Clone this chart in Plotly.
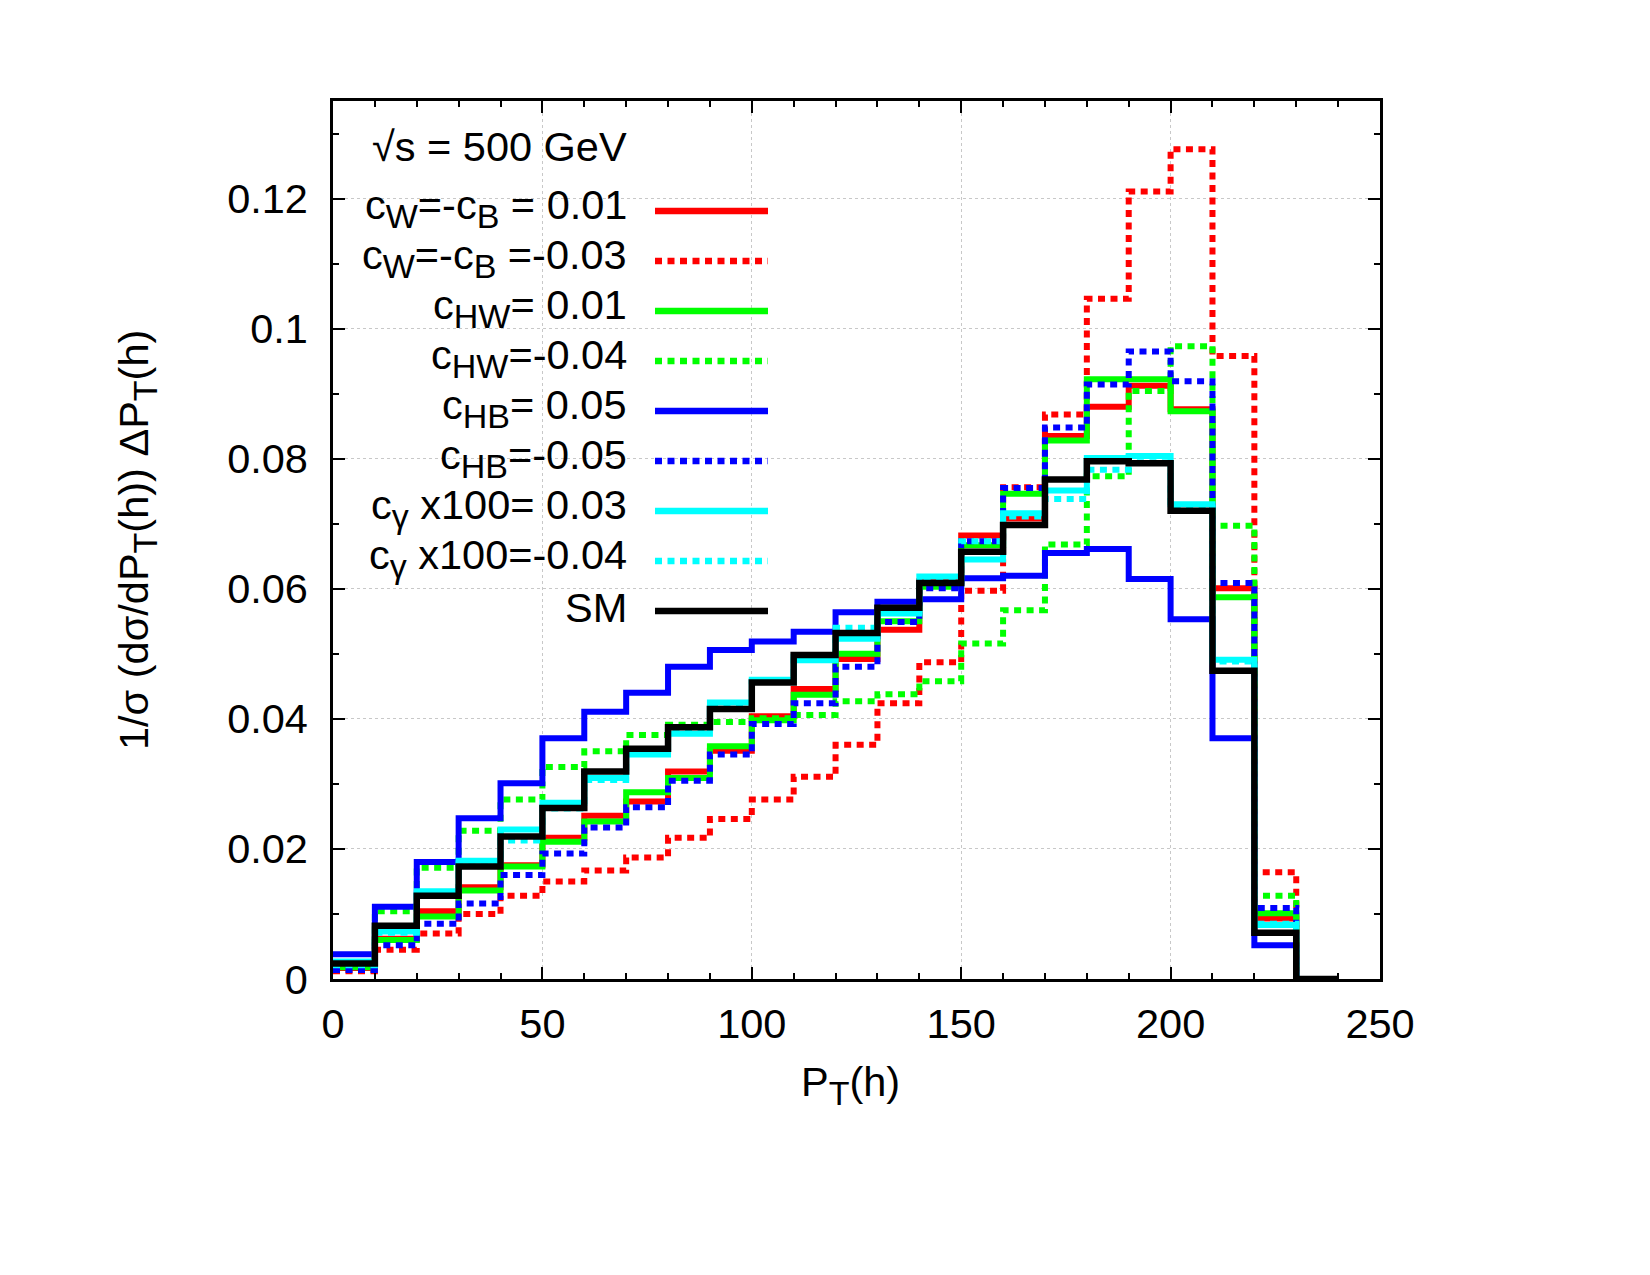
import plotly.graph_objects as go

# ---------------- data ----------------
bin_edges = [0, 10, 20, 30, 40, 50, 60, 70, 80, 90, 100, 110, 120,
             130, 140, 150, 160, 170, 180, 190, 200, 210, 220, 230, 240]

cw_p001 = [0.0017, 0.0062, 0.0104, 0.0141, 0.0175, 0.0217, 0.0251, 0.0273, 0.0319, 0.0351,
           0.0404, 0.0446, 0.0492, 0.0537, 0.0612, 0.0682, 0.0708, 0.0835, 0.0880, 0.0912,
           0.0876, 0.0601, 0.0093, 0.0]
cw_m003 = [0.0012, 0.0045, 0.0070, 0.0100, 0.0128, 0.0150, 0.0167, 0.0187, 0.0217, 0.0246,
           0.0276, 0.0311, 0.0360, 0.0424, 0.0487, 0.0597, 0.0756, 0.0868, 0.1046, 0.1211,
           0.1276, 0.0958, 0.0164, 0.0]
chw_p001 = [0.0018, 0.0060, 0.0096, 0.0136, 0.0173, 0.0211, 0.0242, 0.0287, 0.0309, 0.0358,
            0.0398, 0.0437, 0.0500, 0.0550, 0.0603, 0.0667, 0.0746, 0.0828, 0.0922, 0.0922,
            0.0873, 0.0587, 0.0101, 0.0]
chw_m004 = [0.0019, 0.0104, 0.0171, 0.0228, 0.0276, 0.0326, 0.0350, 0.0375, 0.0391, 0.0395,
            0.0401, 0.0406, 0.0427, 0.0438, 0.0458, 0.0516, 0.0567, 0.0668, 0.0773, 0.0904,
            0.0973, 0.0697, 0.0128, 0.0]
chb_p005 = [0.0038, 0.0111, 0.0180, 0.0247, 0.0301, 0.0370, 0.0411, 0.0440, 0.0480, 0.0506,
            0.0519, 0.0534, 0.0564, 0.0580, 0.0584, 0.0616, 0.0620, 0.0655, 0.0661, 0.0615,
            0.0553, 0.0370, 0.0052, 0.0]
chb_m005 = [0.0014, 0.0052, 0.0085, 0.0116, 0.0160, 0.0193, 0.0233, 0.0264, 0.0305, 0.0345,
            0.0392, 0.0424, 0.0480, 0.0549, 0.0601, 0.0673, 0.0755, 0.0848, 0.0914, 0.0965,
            0.0919, 0.0609, 0.0109, 0.0]
cg_p003 = [0.0027, 0.0073, 0.0135, 0.0182, 0.0230, 0.0271, 0.0309, 0.0345, 0.0377, 0.0425,
           0.0460, 0.0490, 0.0523, 0.0562, 0.0619, 0.0645, 0.0716, 0.0751, 0.0801, 0.0804,
           0.0730, 0.0491, 0.0083, 0.0]
cg_m004 = [0.0021, 0.0071, 0.0132, 0.0178, 0.0213, 0.0262, 0.0306, 0.0348, 0.0383, 0.0420,
           0.0458, 0.0495, 0.0540, 0.0565, 0.0612, 0.0673, 0.0711, 0.0738, 0.0783, 0.0803,
           0.0725, 0.0488, 0.0085, 0.0]
sm = [0.0024, 0.0082, 0.0128, 0.0173, 0.0219, 0.0263, 0.0319, 0.0354, 0.0387, 0.0415,
      0.0456, 0.0498, 0.0532, 0.0571, 0.0609, 0.0657, 0.0698, 0.0768, 0.0796, 0.0793,
      0.0720, 0.0474, 0.0071, 0.0]

series_values = [cw_p001, cw_m003, chw_p001, chw_m004, chb_p005, chb_m005, cg_p003, cg_m004, sm]
SUB = '<sub><span style="font-size:34px">{}</span></sub>'
series_labels = [
    "c" + SUB.format("W") + "=-c" + SUB.format("B") + " = 0.01",
    "c" + SUB.format("W") + "=-c" + SUB.format("B") + " =-0.03",
    "c" + SUB.format("HW") + "= 0.01",
    "c" + SUB.format("HW") + "=-0.04",
    "c" + SUB.format("HB") + "= 0.05",
    "c" + SUB.format("HB") + "=-0.05",
    "c" + SUB.format("γ") + " x100= 0.03",
    "c" + SUB.format("γ") + " x100=-0.04",
    "SM",
]
legend_title = "√s = 500 GeV"

x_tick_vals = [0, 50, 100, 150, 200, 250]
x_tick_text = ["0", "50", "100", "150", "200", "250"]
y_tick_vals = [0, 0.02, 0.04, 0.06, 0.08, 0.10, 0.12]
y_tick_text = ["0", "0.02", "0.04", "0.06", "0.08", "0.1", "0.12"]

# ---------------- style ----------------
colors = ["#ff0000", "#ff0000", "#00ff00", "#00ff00", "#0000ff", "#0000ff",
          "#00ffff", "#00ffff", "#000000"]
dashes = ["solid", "7px,5.5px", "solid", "7px,5.5px", "solid", "7px,5.5px",
          "solid", "7px,5.5px", "solid"]
widths = [6, 6, 6, 6, 6, 6, 6, 6, 6.5]

FONT = "Liberation Sans, Arial, Helvetica, sans-serif"
FS = 41.5
W, H = 1650, 1275
L, R, T, B = 333, 1380, 101, 979  # plot area pixels


def px_x(px):
    return (px - L) / (R - L)


def px_y(py):
    return (B - py) / (B - T)


fig = go.Figure()
for vals, lab, c, d, w in zip(series_values, series_labels, colors, dashes, widths):
    fig.add_trace(go.Scatter(
        x=bin_edges, y=vals + [vals[-1]], mode="lines",
        line=dict(color=c, width=w, dash=d, shape="hv"),
        showlegend=False, hoverinfo="skip"))

# manual gnuplot-style key
annotations = []
shapes = []
annotations.append(dict(text=legend_title, x=px_x(629), y=px_y(146), xref="paper", yref="paper",
                        xanchor="right", yanchor="middle", showarrow=False,
                        font=dict(family=FONT, size=FS, color="black")))
key_y0 = 211
key_dy = 50
for i, (lab, c, d) in enumerate(zip(series_labels, colors, dashes)):
    yy = key_y0 + i * key_dy
    has_sub = "<sub>" in lab
    annotations.append(dict(text=lab, x=px_x(629), y=px_y(yy), xref="paper", yref="paper",
                            xanchor="right", yanchor="middle", showarrow=False,
                            yshift=3 if has_sub else 4,
                            font=dict(family=FONT, size=FS, color="black")))
    shapes.append(dict(type="line", xref="paper", yref="paper",
                       x0=px_x(655), x1=px_x(768), y0=px_y(yy), y1=px_y(yy),
                       line=dict(color=c, width=6.5, dash=d)))

# axis titles
annotations.append(dict(text="P" + SUB.format("T") + "(h)", x=px_x(850), y=0,
                        xref="paper", yref="paper",
                        xanchor="center", yanchor="middle", yshift=-106, showarrow=False,
                        font=dict(family=FONT, size=FS, color="black")))
annotations.append(dict(text="1/σ (dσ/dP" + SUB.format("T") + "(h)) ΔP" + SUB.format("T") + "(h)",
                        x=0, y=0.5,
                        xref="paper", yref="paper", xshift=-196, xanchor="center",
                        yanchor="middle", textangle=-90, showarrow=False,
                        font=dict(family=FONT, size=FS, color="black")))

axis_common = dict(
    showline=True, linecolor="black", linewidth=2.5, mirror="allticks",
    ticks="inside", ticklen=12, tickwidth=2, tickcolor="black",
    showgrid=True, gridcolor="#c8c8c8", gridwidth=1, griddash="dot",
    zeroline=False, tickfont=dict(family=FONT, size=FS, color="black"),
)

fig.update_layout(
    width=W, height=H,
    margin=dict(l=L, r=W - R, t=T, b=H - B, pad=0),
    paper_bgcolor="white", plot_bgcolor="white",
    xaxis=dict(range=[0, 250], tickmode="array", tickvals=x_tick_vals, ticktext=x_tick_text,
               minor=dict(tickmode="linear", tick0=0, dtick=10, ticks="inside", ticklen=6,
                          tickwidth=2, tickcolor="black", showgrid=False),
               ticklabelstandoff=6, **axis_common),
    yaxis=dict(range=[0, 0.135], tickmode="array", tickvals=y_tick_vals, ticktext=y_tick_text,
               minor=dict(tickmode="linear", tick0=0, dtick=0.01, ticks="inside", ticklen=6,
                          tickwidth=2, tickcolor="black", showgrid=False),
               ticklabelstandoff=14, **axis_common),
    annotations=annotations, shapes=shapes, showlegend=False,
)

fig.write_html("out.html")
